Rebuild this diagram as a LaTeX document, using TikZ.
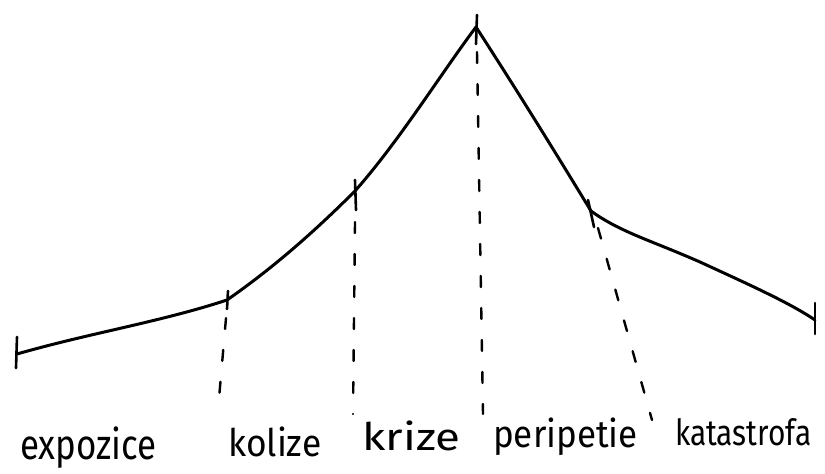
\documentclass[tikz,border=0pt]{standalone}
\usepackage{fontspec}
\usepackage{graphicx}
\setmainfont{Fira Sans}
\tikzset{
  plotline/.style={line width=3pt, black, line join=round, line cap=round},
  tickmark/.style={line width=2.6pt, black, line cap=round},
  guide/.style={line width=2.4pt, black, dash pattern=on 11pt off 21pt, line cap=round},
  lbl/.style={inner sep=0pt, text=black, anchor=base west},
}
\begin{document}
\begin{tikzpicture}[x=1pt,y=-1pt]
\useasboundingbox (0,0) rectangle (825,474);
% points
\coordinate (start) at (17,354);
\coordinate (kolP) at (227,300);
\coordinate (kriP) at (355,191);
\coordinate (peak) at (476,27);
\coordinate (perP) at (591,211);
\coordinate (endP) at (815,320);
% curve
\draw[plotline] (start) .. controls (90,333) and (160,322) .. (kolP)
  .. controls (273,268) and (314,232) .. (kriP)
  .. controls (400,140) and (440,75) .. (peak)
  .. controls (520,95) and (560,160) .. (perP)
  .. controls (620,232) and (650,240) .. (700,262)
  .. controls (750,285) and (790,303) .. (endP);
% ticks
\coordinate (t0a) at (17,337); \coordinate (t0b) at (16,368);
\coordinate (t1a) at (228,291); \coordinate (t1b) at (227,309);
\coordinate (t2a) at (355,180); \coordinate (t2b) at (356,210);
\coordinate (t3a) at (477,15);  \coordinate (t3b) at (476,44);
\coordinate (t4a) at (588,200); \coordinate (t4b) at (594,227);
\coordinate (t5a) at (815,303); \coordinate (t5b) at (815,334);
\foreach \a/\b in {t0a/t0b,t1a/t1b,t2a/t2b,t3a/t3b,t4a/t4b,t5a/t5b}
  \draw[tickmark] (\a) -- (\b);
% dashed guides
\coordinate (g1a) at (226,318); \coordinate (g1b) at (218,410);
\coordinate (g2a) at (355,222); \coordinate (g2b) at (353,414);
\coordinate (g3a) at (477,52);  \coordinate (g3b) at (483,414);
\coordinate (g4a) at (598,228); \coordinate (g4b) at (652,420);
\draw[guide] (g1a) -- (g1b);
\draw[guide] (g2a) -- (g2b);
\draw[guide] (g3a) -- (g3b);
\draw[guide] (g4a) -- (g4b);
% labels
\node[lbl] (lexp) at (20,459) {\fontsize{42}{44}\selectfont\scalebox{0.83}[1]{expozice}};
\node[lbl] (lkol) at (228,456) {\fontsize{38}{40}\selectfont\scalebox{0.93}[1]{kolize}};
\node[lbl] (lkri) at (362,450) {\fontsize{38}{40}\selectfont\scalebox{1.2}[1]{krize}};
\node[lbl] (lper) at (493,447) {\fontsize{38}{40}\selectfont\scalebox{0.92}[1]{peripetie}};
\node[lbl] (lkat) at (675,445) {\fontsize{36}{38}\selectfont\scalebox{0.83}[1]{katastrofa}};
\end{tikzpicture}
\end{document}
